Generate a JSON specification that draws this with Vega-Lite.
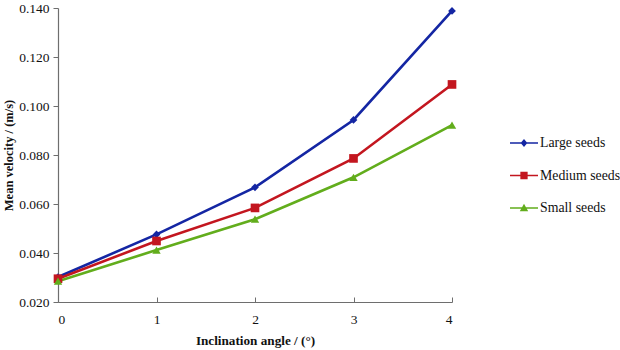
{
  "$schema": "https://vega.github.io/schema/vega-lite/v6.json",
  "width": 394,
  "height": 294,
  "autosize": {"type": "none"},
  "padding": {"left": 58, "top": 8, "right": 168, "bottom": 48},
  "background": "white",
  "config": {
    "view": {"stroke": null},
    "font": "Liberation Serif",
    "axis": {
      "grid": false,
      "domainColor": "#6e6e6e",
      "tickColor": "#6e6e6e",
      "domainWidth": 1.2,
      "labelFont": "Liberation Serif",
      "labelFontSize": 13.5,
      "labelColor": "#111",
      "titleFont": "Liberation Serif",
      "titleFontSize": 13.2,
      "titleFontWeight": "bold",
      "titleColor": "#111"
    }
  },
  "data": {
    "values": [
      {"series": "Large seeds", "angle": 0, "v": 0.0302},
      {"series": "Large seeds", "angle": 1, "v": 0.0476},
      {"series": "Large seeds", "angle": 2, "v": 0.0668},
      {"series": "Large seeds", "angle": 3, "v": 0.0943},
      {"series": "Large seeds", "angle": 4, "v": 0.1388},
      {"series": "Medium seeds", "angle": 0, "v": 0.0295},
      {"series": "Medium seeds", "angle": 1, "v": 0.0449},
      {"series": "Medium seeds", "angle": 2, "v": 0.0584},
      {"series": "Medium seeds", "angle": 3, "v": 0.0786},
      {"series": "Medium seeds", "angle": 4, "v": 0.1088},
      {"series": "Small seeds", "angle": 0, "v": 0.0285},
      {"series": "Small seeds", "angle": 1, "v": 0.0412},
      {"series": "Small seeds", "angle": 2, "v": 0.0538},
      {"series": "Small seeds", "angle": 3, "v": 0.0709},
      {"series": "Small seeds", "angle": 4, "v": 0.0922}
    ]
  },
  "encoding": {
    "x": {
      "field": "angle",
      "type": "quantitative",
      "scale": {"domain": [0, 4], "nice": false, "zero": false},
      "axis": {
        "title": "Inclination angle / (°)",
        "values": [0, 1, 2, 3, 4],
        "format": "d",
        "tickSize": -5,
        "labelPadding": 15,
        "titlePadding": 9
      }
    },
    "y": {
      "field": "v",
      "type": "quantitative",
      "scale": {"domain": [0.02, 0.14], "nice": false, "zero": false},
      "axis": {
        "title": "Mean velocity / (m/s)",
        "titleFontSize": 12.5,
        "values": [0.02, 0.04, 0.06, 0.08, 0.1, 0.12, 0.14],
        "format": ".3f",
        "tickSize": 5,
        "labelPadding": 4,
        "titlePadding": 3
      }
    },
    "color": {
      "field": "series",
      "type": "nominal",
      "scale": {
        "domain": ["Large seeds", "Medium seeds", "Small seeds"],
        "range": ["#1426a3", "#c3161f", "#62ad1c"]
      },
      "legend": {
        "title": null,
        "orient": "none",
        "legendX": 452,
        "legendY": 121,
        "labelFont": "Liberation Serif",
        "labelFontSize": 13.8,
        "labelColor": "#111",
        "symbolSize": 784,
        "rowPadding": 11.5,
        "labelOffset": 2,
        "encode": {
          "symbols": {
            "update": {
              "shape": {"signal": "datum.value === 'Large seeds' ? 'M-1,-0.05H1V0.05H-1Z M0,-0.28L0.24,0L0,0.28L-0.24,0Z' : datum.value === 'Medium seeds' ? 'M-1,-0.05H1V0.05H-1Z M-0.26,-0.26H0.26V0.26H-0.26Z' : 'M-1,-0.05H1V0.05H-1Z M0,-0.3L0.3,0.24H-0.3Z'"},
              "fill": {"scale": "color", "field": "value"},
              "stroke": {"value": null},
              "strokeWidth": {"value": 0},
              "opacity": {"value": 1}
            }
          }
        }
      }
    }
  },
  "layer": [
    {
      "mark": {"type": "line", "strokeWidth": 2.6}
    },
    {
      "transform": [{"filter": "datum.series === 'Large seeds'"}],
      "mark": {"type": "point", "shape": "diamond", "filled": true, "opacity": 1, "size": 60}
    },
    {
      "transform": [{"filter": "datum.series === 'Medium seeds'"}],
      "mark": {"type": "point", "shape": "square", "filled": true, "opacity": 1, "size": 75}
    },
    {
      "transform": [{"filter": "datum.series === 'Small seeds'"}],
      "mark": {"type": "point", "shape": "triangle-up", "filled": true, "opacity": 1, "size": 70}
    }
  ]
}
